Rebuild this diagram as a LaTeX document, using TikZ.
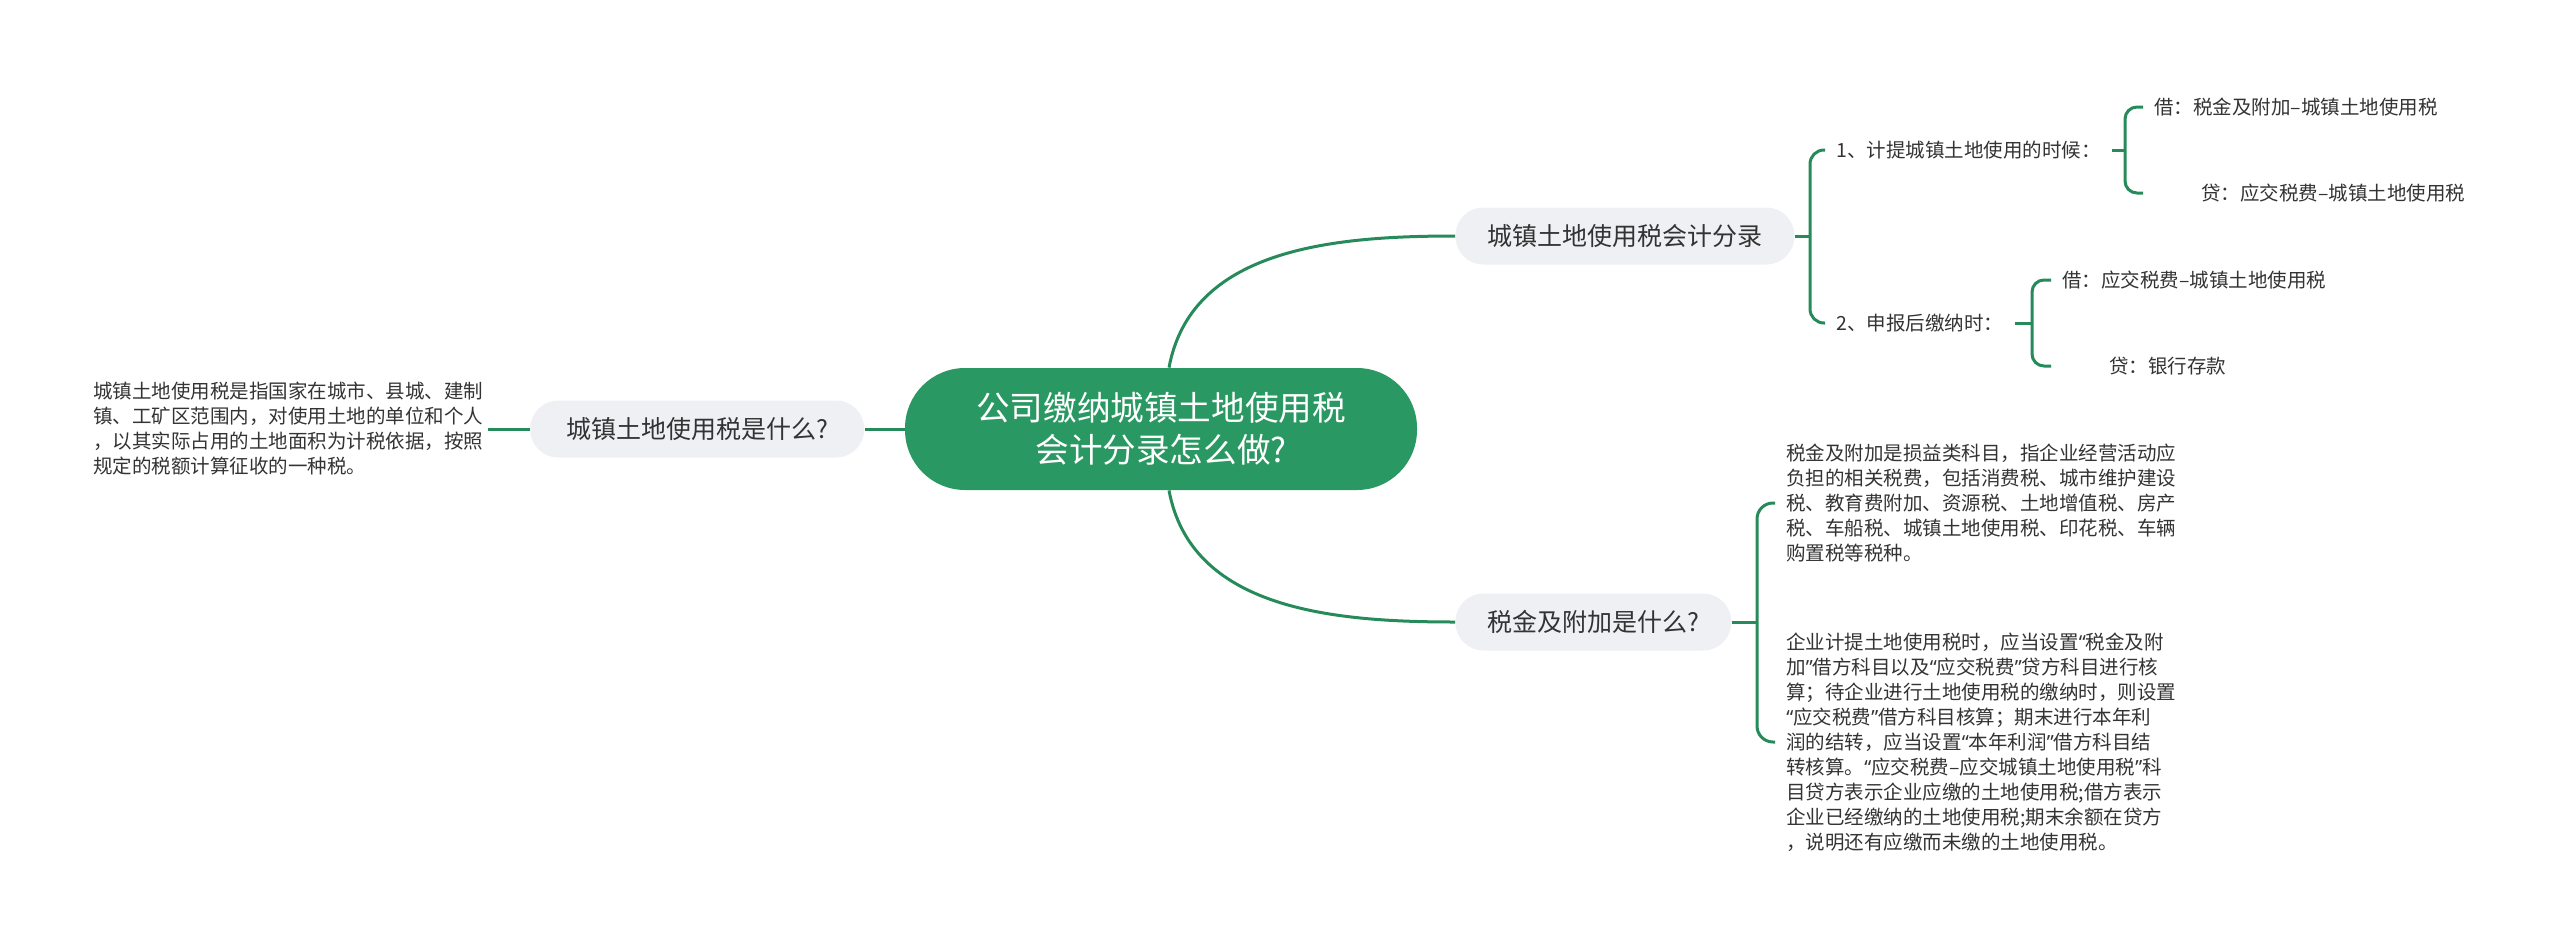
\documentclass[tikz,border=0pt]{standalone}
\usepackage{fontspec}
\setmainfont{Noto Sans CJK SC}
\newfontfamily\latinfont{Noto Sans}
\newcommand{\qopen}{{\latinfont “}}
\newcommand{\qclose}{{\latinfont ”}}
\usepackage{tikz}
\usetikzlibrary{positioning}
\usepackage{xcolor}
\definecolor{mmgreen}{RGB}{42,152,98}
\definecolor{mmline}{RGB}{38,138,90}
\definecolor{mmgray}{RGB}{238,240,243}
\definecolor{mmtext}{RGB}{51,51,51}
\tikzstyle{link} = [line width=1.5pt, color=mmline]
\tikzstyle{rootnode} = [rectangle, rounded corners=30pt, minimum width=256pt, minimum height=61pt, fill=mmgreen, text=white, align=center, font=\fontsize{16.8}{21}\selectfont]
\tikzstyle{topicnode} = [rectangle, rounded corners=14pt, minimum height=28.5pt, inner xsep=16pt, fill=mmgray, text=mmtext, font=\fontsize{12.5}{15}\selectfont]
\tikzstyle{leafnode} = [inner xsep=5.5pt, inner ysep=0pt, text=mmtext, align=left, font=\fontsize{9.75}{12.5}\selectfont]
\begin{document}
\begin{tikzpicture}[x=0.5pt,y=-0.5pt]
\useasboundingbox (0,0) rectangle (2560,948);

% Root
\node[rootnode] (root) at (1161,429) {公司缴纳城镇土地使用税\\会计分录怎么做?};

% Left branch
\node[topicnode, minimum width=167pt, left=20pt of root] (what) {城镇土地使用税是什么?};
\node[leafnode, inner xsep=2pt, left=21pt of what] (whattext) {城镇土地使用税是指国家在城市、县城、建制\\镇、工矿区范围内，对使用土地的单位和个人\\，以其实际占用的土地面积为计税依据，按照\\规定的税额计算征收的一种税。};

% Right branches
\node[topicnode, anchor=west] (acct) at (1455,236) {城镇土地使用税会计分录};
\node[topicnode, anchor=west] (fee) at (1455,622) {税金及附加是什么?};

% Entries
\node[leafnode, anchor=west] (step1) at (1825,150) {1、计提城镇土地使用的时候：};
\node[leafnode, anchor=west] (step2) at (1825,323) {2、申报后缴纳时：};
\node[leafnode, anchor=west] (debit1) at (2143,107) {借：税金及附加–城镇土地使用税};
\node[leafnode, anchor=west] (credit1) at (2190,193) {贷：应交税费–城镇土地使用税};
\node[leafnode, anchor=west] (debit2) at (2051,280) {借：应交税费–城镇土地使用税};
\node[leafnode, anchor=west] (credit2) at (2098,366) {贷：银行存款};

% Fee texts
\node[leafnode, anchor=west] (feetext1) at (1775,503) {税金及附加是损益类科目，指企业经营活动应\\负担的相关税费，包括消费税、城市维护建设\\税、教育费附加、资源税、土地增值税、房产\\税、车船税、城镇土地使用税、印花税、车辆\\购置税等税种。};
\node[leafnode, anchor=west] (feetext2) at (1775,742) {企业计提土地使用税时，应当设置\qopen 税金及附\\加\qclose 借方科目以及\qopen 应交税费\qclose 贷方科目进行核\\算；待企业进行土地使用税的缴纳时，则设置\\\qopen 应交税费\qclose 借方科目核算；期末进行本年利\\润的结转，应当设置\qopen 本年利润\qclose 借方科目结\\转核算。\qopen 应交税费–应交城镇土地使用税\qclose 科\\目贷方表示企业应缴的土地使用税;借方表示\\企业已经缴纳的土地使用税;期末余额在贷方\\，说明还有应缴而未缴的土地使用税。};

% Junctions
\coordinate (j0) at (1810,236);
\coordinate (j1) at (2125,150);
\coordinate (j2) at (2032,323);
\coordinate (j3) at (1757,622);

\draw[link] (root.west) -- (what.east);
\draw[link] (what.west) -- (whattext.east);
\draw[link] ([xshift=4pt]root.north) .. controls +(22,-118) and +(-125,0) .. (acct.west);
\draw[link] ([xshift=4pt]root.south) .. controls +(22,118) and +(-125,0) .. (fee.west);

\draw[link] (acct.east) -- (j0);
\draw[link, rounded corners=7pt] (j0) |- (step1.west);
\draw[link, rounded corners=7pt] (j0) |- (step2.west);
\draw[link] (step1.east) -- (j1);
\draw[link, rounded corners=6pt] (j1) |- (debit1.west);
\draw[link, rounded corners=6pt] (j1) |- ([xshift=-23.5pt]credit1.west);
\draw[link] (step2.east) -- (j2);
\draw[link, rounded corners=6pt] (j2) |- (debit2.west);
\draw[link, rounded corners=6pt] (j2) |- ([xshift=-23.5pt]credit2.west);
\draw[link] (fee.east) -- (j3);
\draw[link, rounded corners=8pt] (j3) |- (feetext1.west);
\draw[link, rounded corners=8pt] (j3) |- (feetext2.west);
\end{tikzpicture}
\end{document}
